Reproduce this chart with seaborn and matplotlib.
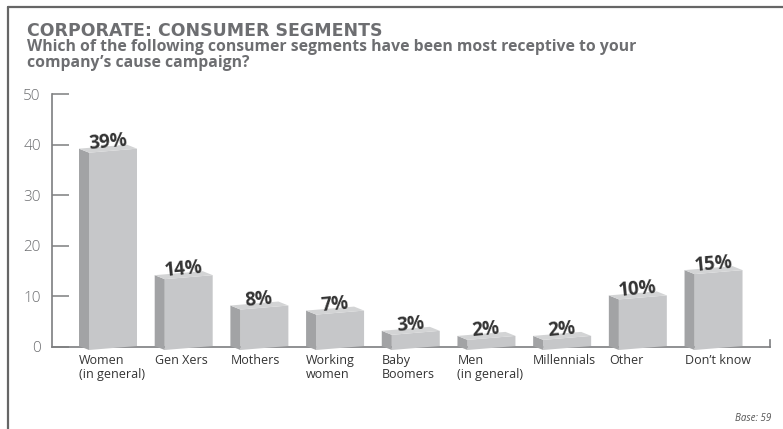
import math
import matplotlib
matplotlib.use("Agg")
import matplotlib.pyplot as plt
from matplotlib.patches import Polygon
from matplotlib.lines import Line2D
from matplotlib.transforms import Affine2D, IdentityTransform, ScaledTranslation
import pandas as pd
import seaborn as sns

# Survey data
segments = ["Women\n(in general)", "Gen Xers", "Mothers", "Working\nwomen", "Baby\nBoomers",
            "Men\n(in general)", "Millennials", "Other", "Don\u2019t know"]
shares = [39, 14, 8, 7, 3, 2, 2, 10, 15]
y_ticks = [0, 10, 20, 30, 40, 50]

title = "CORPORATE: CONSUMER SEGMENTS"
question_lines = ["Which of the following consumer segments have been most receptive to your",
                  "company\u2019s cause campaign?"]
base_note = "Base: 59"

FRONT = "#c6c7c9"
SIDE = "#a2a3a5"
TOP = "#d3d4d5"
AXIS = "#7d7e80"
HEAD = "#6d6e71"
INK = "#333333"

sns.set_theme(style="white")
plt.rcParams["font.family"] = ["Open Sans", "DejaVu Sans"]

DPI = 100
fig = plt.figure(figsize=(7.83, 4.29), dpi=DPI)
W, H = 783, 429
ax = fig.add_axes([52 / W, 82 / H, 718 / W, 253 / H])

df = pd.DataFrame({"segment": segments, "share": shares})
sns.barplot(data=df, x="segment", y="share", color=FRONT, saturation=1,
            width=0.634, ax=ax, edgecolor="none")

ax.set_xlim(-0.806, 8.68)
ax.set_ylim(0, 50)
ax.set_xlabel("")
ax.set_ylabel("")

# spines
ax.spines["top"].set_visible(False)
for side in ["left", "bottom", "right"]:
    ax.spines[side].set_color(AXIS)
    ax.spines[side].set_linewidth(1.2)
ax.spines["right"].set_bounds(0, 1.3)

ax.set_yticks(y_ticks)
ax.tick_params(axis="y", left=True, direction="in", length=12, width=1.1, color=AXIS,
               pad=8, labelsize=11, labelcolor=HEAD)
ax.tick_params(axis="x", bottom=False, length=0, pad=5, labelsize=9, labelcolor=INK)
for lab in ax.get_yticklabels():
    lab.set_fontweight("light")

ax.set_xticks(range(len(segments)))
ax.set_xticklabels(segments, ha="left", va="top", linespacing=1.15)
shift = ScaledTranslation(-34 / DPI, 0, fig.dpi_scale_trans)
for lab in ax.get_xticklabels():
    lab.set_transform(lab.get_transform() + shift)

# pseudo-3D boxes built around each seaborn bar
px = DPI / 100.0
slope = 4 / 48          # front face tilts up to the right
dx, dy = -10 * px, 4 * px  # depth offset of the back edges
drop = 1 * px
for p, v in zip(ax.patches, shares):
    x0, w, h = p.get_x(), p.get_width(), p.get_height()
    X0, Yb = ax.transData.transform((x0, 0))
    X1, Yt = ax.transData.transform((x0 + w, h))
    Xc = (X0 + X1) / 2
    half = slope * (X1 - X0) / 2
    p.set_transform(ax.transData + Affine2D().translate(-Xc, 0)
                    .skew(0, math.atan(slope)).translate(Xc, -drop))
    p.set_zorder(3)
    p.set_clip_on(False)
    A = (X0, Yb - half - drop)
    B = (X0, Yt - half - drop)
    C = (X1, Yt + half - drop)
    side_face = [A, B, (B[0] + dx, B[1] + dy), (A[0] + dx, A[1] + dy)]
    top_face = [B, C, (C[0] + dx, C[1] + dy), (B[0] + dx, B[1] + dy)]
    for pts, col in ((side_face, SIDE), (top_face, TOP)):
        ax.add_patch(Polygon(pts, closed=True, facecolor=col, edgecolor="none",
                             transform=IdentityTransform(), zorder=3, clip_on=False))
    lx = (B[0] + C[0]) / 2 + dx / 2
    ly = (B[1] + C[1]) / 2 + dy / 2 + 1 * px
    tx, ty = ax.transData.inverted().transform((lx, ly))
    ax.text(tx, ty, f"{v}%", ha="center", va="baseline", rotation=5,
            rotation_mode="anchor", fontsize=13.5, fontweight="bold",
            color=INK, zorder=4)

# headings
fig.text(27 / W, 1 - 36 / H, title, ha="left", va="baseline",
         fontsize=12.5, fontweight="heavy", color=HEAD,
         family=["DejaVu Sans"])
for i, line in enumerate(question_lines):
    fig.text(27 / W, 1 - (51 + 16 * i) / H, line, ha="left", va="baseline",
             fontsize=11.3, fontweight="bold", color=HEAD)
fig.text(771 / W, 1 - 421 / H, base_note, ha="right", va="baseline",
         fontsize=7, style="italic", color="#555555")

# outer frame (top and left rules)
fig.add_artist(Line2D([8 / W, 1], [1 - 7 / H, 1 - 7 / H], transform=fig.transFigure,
                      color="#666666", lw=1.6))
fig.add_artist(Line2D([8 / W, 8 / W], [0, 1 - 7 / H], transform=fig.transFigure,
                      color="#666666", lw=1.6))

fig.savefig("out.png", dpi=DPI)
